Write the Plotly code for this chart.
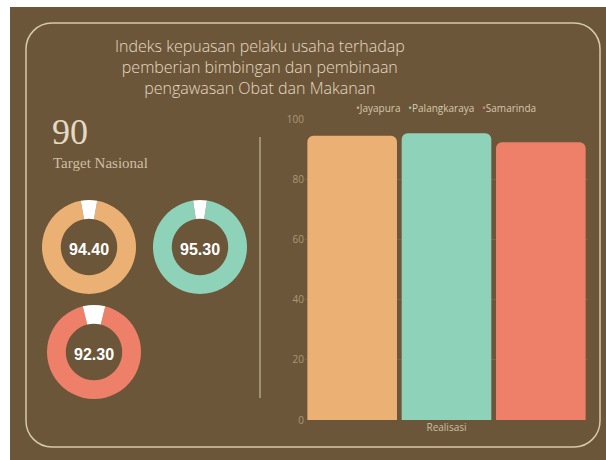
import plotly.graph_objects as go

# ---- data ----
cities = ["Jayapura", "Palangkaraya", "Samarinda"]
realisasi = [94.40, 95.30, 92.30]
colors = ["#EBB074", "#8FD2BA", "#EE8069"]
category = ["Realisasi"]
target = 90
target_label = "Target Nasional"
title_lines = ["Indeks kepuasan pelaku usaha terhadap",
               "pemberian bimbingan dan pembinaan",
               "pengawasan Obat dan Makanan"]
y_ticks = [0, 20, 40, 60, 80, 100]

W, H = 606, 460
BG = "#6C5639"
BEIGE = "#E6D9C2"
FRAME = "#D6C8AC"


def px(x):
    return x / W


def py(y):
    return 1 - y / H


fig = go.Figure()

# bars
for name, val, col in zip(cities, realisasi, colors):
    fig.add_trace(go.Bar(x=category, y=[val], name=name, marker_color=col,
                         marker_line_width=0, showlegend=False, hoverinfo="skip"))

# donuts
donut_centers = [(89, 247), (200, 247), (94, 352)]
R = 47
for (cx, cy), val, col in zip(donut_centers, realisasi, colors):
    fig.add_trace(go.Pie(
        values=[val, 100 - val],
        marker=dict(colors=[col, "#FFFFFF"], line=dict(width=0)),
        hole=0.6, sort=False, direction="clockwise",
        rotation=(100 - val) * 1.8,
        textinfo="none", hoverinfo="skip", showlegend=False,
        domain=dict(x=[px(cx - R), px(cx + R)], y=[py(cy + R), py(cy - R)]),
        title=dict(text=f"<b>{val:.2f}</b>", position="middle center",
                   font=dict(family="Liberation Sans", size=16, color="#FFFFFF")),
    ))

# frame path (rounded rectangle) in paper coords
x0, y0, x1, y1, r = 26, 23, 600, 447, 26
k = 0.5523 * r


def P(x, y):
    return f"{px(x):.5f},{py(y):.5f}"


path = (f"M {P(x0 + r, y0)} L {P(x1 - r, y0)} "
        f"C {P(x1 - r + k, y0)} {P(x1, y0 + r - k)} {P(x1, y0 + r)} "
        f"L {P(x1, y1 - r)} "
        f"C {P(x1, y1 - r + k)} {P(x1 - r + k, y1)} {P(x1 - r, y1)} "
        f"L {P(x0 + r, y1)} "
        f"C {P(x0 + r - k, y1)} {P(x0, y1 - r + k)} {P(x0, y1 - r)} "
        f"L {P(x0, y0 + r)} "
        f"C {P(x0, y0 + r - k)} {P(x0 + r - k, y0)} {P(x0 + r, y0)} Z")

shapes = [
    dict(type="rect", xref="paper", yref="paper", x0=px(10), x1=1, y0=-0.05, y1=py(7),
         fillcolor=BG, line=dict(width=0), layer="below"),
    dict(type="path", xref="paper", yref="paper", path=path,
         line=dict(color=FRAME, width=1.5), layer="below"),
    dict(type="line", xref="paper", yref="paper", x0=px(260), x1=px(260),
         y0=py(137), y1=py(398), line=dict(color=FRAME, width=1), layer="below"),
]

legend_text = "&nbsp;&nbsp;&nbsp;".join(
    f'<span style="color:{c}">•</span>{n}' for n, c in zip(cities, colors))

annotations = [
    dict(text="<br>".join(title_lines), x=px(260), y=py(67), xref="paper", yref="paper",
         showarrow=False, align="center", xanchor="center", yanchor="middle",
         font=dict(family="Open Sans", size=16, color=BEIGE, weight=300)),
    dict(text=str(target), x=px(50), y=py(132), xref="paper", yref="paper",
         showarrow=False, xanchor="left", yanchor="middle",
         font=dict(family="Liberation Serif", size=36, color=BEIGE)),
    dict(text=target_label, x=px(51), y=py(163), xref="paper", yref="paper",
         showarrow=False, xanchor="left", yanchor="middle",
         font=dict(family="Liberation Serif", size=15, color="#CDBFA5")),
    dict(text=legend_text, x=px(446), y=py(108), xref="paper", yref="paper",
         showarrow=False, xanchor="center", yanchor="middle",
         font=dict(family="Open Sans", size=10, color="#D5C8AE")),
]

fig.update_layout(
    width=W, height=H, autosize=False,
    margin=dict(l=0, r=0, t=0, b=0, pad=0, autoexpand=False),
    paper_bgcolor="#FFFFFF", plot_bgcolor="rgba(0,0,0,0)",
    barmode="group", bargap=0.0, bargroupgap=0.05, barcornerradius=6,
    shapes=shapes, annotations=annotations,
    xaxis=dict(domain=[px(305), px(588)], showgrid=False, zeroline=False,
               showline=False, ticks="", automargin=False,
               tickfont=dict(family="Open Sans", size=10, color="#CDBFA5")),
    yaxis=dict(domain=[py(420), py(119)], range=[0, 100], tickvals=y_ticks,
               showgrid=True, gridcolor="#7A6446", gridwidth=1, zeroline=False,
               showline=False, ticks="", automargin=False,
               tickfont=dict(family="Open Sans", size=10, color="#A8987A")),
    showlegend=False,
)

fig.write_html("out.html",
               config={"responsive": False, "displayModeBar": False, "staticPlot": True},
               post_script="document.body.style.margin='0';document.body.style.overflow='hidden';")
